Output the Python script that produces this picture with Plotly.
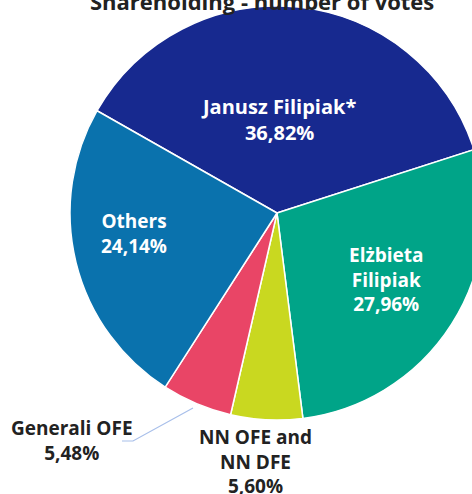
import plotly.graph_objects as go

labels = ["Janusz Filipiak*", "Elżbieta Filipiak", "NN OFE and NN DFE", "Generali OFE", "Others"]
values = [36.82, 27.96, 5.60, 5.48, 24.14]
label_text = ["Janusz Filipiak*<br>36,82%", "Elżbieta<br>Filipiak<br>27,96%",
              "NN OFE and<br>NN DFE<br>5,60%", "Generali OFE<br>5,48%", "Others<br>24,14%"]
colors = ["#17298F", "#00A488", "#C9D820", "#E94566", "#0A72AD"]
title = "Shareholding - number of votes"

W, H = 490, 494
cx, cy, r = 277, 213, 207
FONT = "Open Sans"

fig = go.Figure(go.Pie(
    labels=labels, values=values, sort=False, direction="clockwise",
    rotation=-60.4, textinfo="none", hoverinfo="label+percent",
    marker=dict(colors=colors, line=dict(color="white", width=1.5)),
    domain=dict(x=[(cx - r) / W, (cx + r) / W], y=[1 - (cy + r) / H, 1 - (cy - r) / H]),
    showlegend=False,
))

def px(x, y):
    return x / W, 1 - y / H

# label positions (px)
pos = [(278, 119, "white", 20), (386, 279, "white", 19), (255, 461, "#222222", 19),
       (72, 440, "#222222", 19), (134, 233, "white", 19)]
anns = []
for t, (x, y, c, s) in zip(label_text, pos):
    ax, ay = px(x, y)
    anns.append(dict(x=ax, y=ay, xref="paper", yref="paper", text="<b>" + t + "</b>", showarrow=False,
                     font=dict(family=FONT, size=s, color=c), xanchor="center", yanchor="middle"))
tx, ty = px(262, 1)
anns.append(dict(x=tx, y=ty, xref="paper", yref="paper", text="<b>" + title + "</b>", showarrow=False,
                 font=dict(family=FONT, size=22, color="#222222"), xanchor="center", yanchor="middle"))

x0, y0 = px(193, 408)
x1, y1 = px(133, 441)
x2, y2 = px(122, 441)
fig.add_shape(type="path", xref="paper", yref="paper",
              path=f"M {x0} {y0} L {x1} {y1} L {x2} {y2}",
              line=dict(color="#A8BFEA", width=1.2))

fig.update_layout(width=W, height=H, margin=dict(l=0, r=0, t=0, b=0),
                  paper_bgcolor="white", plot_bgcolor="white", annotations=anns)
fig.write_html("out.html", config={"displayModeBar": False},
               post_script="document.body.style.margin='0';document.body.style.overflow='hidden';")
